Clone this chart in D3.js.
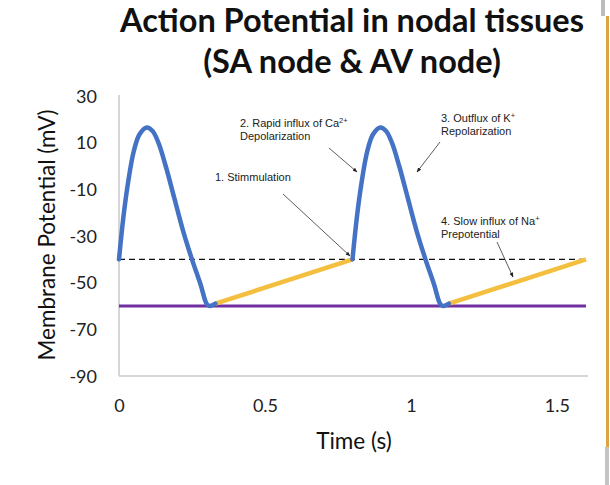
<!DOCTYPE html>
<html>
<head>
<meta charset="utf-8">
<script src="https://cdn.jsdelivr.net/npm/d3@7"></script>
<style>
  html, body { margin: 0; padding: 0; background: #fff; }
  svg { display: block; }
</style>
</head>
<body>
<svg id="chart" width="610" height="485"></svg>
<script>
// ---- data ----
const yTicks = [30, 10, -10, -30, -50, -70, -90];
const yTickLabels = ["30", "10", "-10", "-30", "-50", "-70", "-90"];
const xTicks = [0, 0.5, 1, 1.5];
const xTickLabels = ["0", "0.5", "1", "1.5"];
// action potential 1 (blue): time (s), membrane potential (mV)
const ap1Time = [0, 0.015, 0.03, 0.05, 0.07, 0.095, 0.115, 0.135, 0.16, 0.19, 0.22, 0.25, 0.28, 0.30, 0.31, 0.33];
const ap1Volt = [-40, -22, -8, 6, 13.5, 16.5, 15, 10, 0, -14, -28, -40, -51, -59, -60, -59];
// action potential 2 (blue)
const ap2Time = [0.80, 0.815, 0.83, 0.85, 0.87, 0.895, 0.915, 0.935, 0.96, 0.99, 1.02, 1.05, 1.08, 1.10, 1.11, 1.13];
const ap2Volt = [-40, -22, -8, 6, 13.5, 16.5, 15, 10, 0, -14, -28, -40, -51, -59, -60, -59];
// prepotential (yellow)
const pre1Time = [0.33, 0.80];
const pre1Volt = [-59, -40];
const pre2Time = [1.13, 1.60];
const pre2Volt = [-59, -40];
// reference levels
const thresholdTime = [0, 1.6];
const thresholdVolt = [-40, -40];
const restTime = [0, 1.6];
const restVolt = [-60, -60];

const titleLines = ["Action Potential in nodal tissues", "(SA node & AV node)"];

// ---- layout ----
const svg = d3.select("#chart");
const x = d3.scaleLinear().domain([0, 1.6]).range([119, 586]);
const y = d3.scaleLinear().domain([-90, 30]).range([376, 96]);

const zip = (ts, vs) => ts.map((t, i) => [t, vs[i]]);
const line = d3.line().x(d => x(d[0])).y(d => y(d[1]));
const smooth = d3.line().x(d => x(d[0])).y(d => y(d[1])).curve(d3.curveCatmullRom.alpha(0.5));

// title
svg.append("g").selectAll("text").data(titleLines).join("text")
  .attr("x", 352).attr("y", (d, i) => 32 + i * 41)
  .attr("text-anchor", "middle")
  .attr("font-family", "Lato, 'Open Sans', sans-serif")
  .attr("font-weight", "bold")
  .attr("font-size", 32.5)
  .attr("fill", "#111")
  .text(d => d);

// axes
const yAxis = d3.axisLeft(y).tickValues(yTicks).tickFormat((d, i) => yTickLabels[i]).tickSize(0).tickPadding(22);
const gy = svg.append("g").attr("transform", `translate(${x(0)},0)`).call(yAxis);
gy.select(".domain").attr("stroke", "#c8c8c8").attr("stroke-width", 1.5)
  .attr("d", `M0,${y(30) - 1}V${y(-90)}`);
gy.selectAll("text").attr("font-family", "Lato, 'Open Sans', sans-serif")
  .attr("font-size", 18).attr("fill", "#222").attr("dy", "0.34em");

const xAxis = d3.axisBottom(x).tickValues(xTicks).tickFormat((d, i) => xTickLabels[i]).tickSize(0).tickPadding(23);
const gx = svg.append("g").attr("transform", `translate(0,${y(-90)})`).call(xAxis);
gx.select(".domain").attr("stroke", "#c8c8c8").attr("stroke-width", 1.5)
  .attr("d", `M${x(0)},0H588`);
gx.selectAll("text").attr("font-family", "Lato, 'Open Sans', sans-serif")
  .attr("font-size", 18).attr("fill", "#222");

// axis titles
svg.append("text")
  .attr("transform", `translate(55,${(y(30) + y(-90)) / 2 - 1}) rotate(-90)`)
  .attr("text-anchor", "middle")
  .attr("font-family", "Lato, 'Open Sans', sans-serif")
  .attr("font-size", 22.5).attr("fill", "#111")
  .text("Membrane Potential (mV)");
svg.append("text")
  .attr("x", 354).attr("y", 449)
  .attr("text-anchor", "middle")
  .attr("font-family", "Lato, 'Open Sans', sans-serif")
  .attr("font-size", 22.5).attr("fill", "#111")
  .text("Time (s)");

// reference lines
svg.append("path").datum(zip(restTime, restVolt)).attr("d", line)
  .attr("fill", "none").attr("stroke", "#7030a0").attr("stroke-width", 3);
svg.append("path").datum(zip(thresholdTime, thresholdVolt)).attr("d", line)
  .attr("fill", "none").attr("stroke", "#111").attr("stroke-width", 1.2)
  .attr("stroke-dasharray", "6,4");

// prepotentials
[zip(pre1Time, pre1Volt), zip(pre2Time, pre2Volt)].forEach(d => {
  svg.append("path").datum(d).attr("d", line)
    .attr("fill", "none").attr("stroke", "#f4bf3f").attr("stroke-width", 4.5);
});
// action potentials
[zip(ap1Time, ap1Volt), zip(ap2Time, ap2Volt)].forEach(d => {
  svg.append("path").datum(d).attr("d", smooth)
    .attr("fill", "none").attr("stroke", "#4472c4").attr("stroke-width", 4.5)
    .attr("stroke-linejoin", "round").attr("stroke-linecap", "round");
});

// annotations
const defs = svg.append("defs");
defs.append("marker").attr("id", "ah").attr("viewBox", "0 0 10 10")
  .attr("refX", 9).attr("refY", 5).attr("markerWidth", 6).attr("markerHeight", 6)
  .attr("orient", "auto")
  .append("path").attr("d", "M0,1L10,5L0,9z").attr("fill", "#222");

const notes = [
  { lines: ["1. Stimmulation"], tx: 215, ty: 181, from: [283, 194], to: [350, 256] },
  { lines: ["2. Rapid influx of Ca", "Depolarization"], sup: "2+", tx: 240, ty: 127, from: [329, 148], to: [357, 172] },
  { lines: ["3. Outflux of K", "Repolarization"], sup: "+", tx: 441, ty: 122, from: [440, 142], to: [417, 172] },
  { lines: ["4. Slow influx of Na", "Prepotential"], sup: "+", tx: 441, ty: 225, from: [497, 242], to: [513, 277] }
];
notes.forEach(n => {
  const t = svg.append("text")
    .attr("font-family", "'Liberation Sans', Arial, sans-serif")
    .attr("font-size", 11).attr("fill", "#222");
  n.lines.forEach((l, i) => {
    t.append("tspan").attr("x", n.tx).attr("y", n.ty + i * 13).text(l);
    if (i === 0 && n.sup) {
      t.append("tspan").attr("dy", -4).attr("font-size", 7.5).text(n.sup);
    }
  });
  svg.append("line")
    .attr("x1", n.from[0]).attr("y1", n.from[1]).attr("x2", n.to[0]).attr("y2", n.to[1])
    .attr("stroke", "#333").attr("stroke-width", 0.8)
    .attr("marker-end", "url(#ah)");
});

// right edge border remnants of screenshot
svg.append("rect").attr("x", 601).attr("y", 0).attr("width", 4).attr("height", 16).attr("fill", "#bdbdbd");
svg.append("rect").attr("x", 606).attr("y", 16).attr("width", 3).attr("height", 431).attr("fill", "#d9a640");
svg.append("rect").attr("x", 605).attr("y", 447).attr("width", 4).attr("height", 38).attr("fill", "#c4c4c4");
</script>
</body>
</html>
